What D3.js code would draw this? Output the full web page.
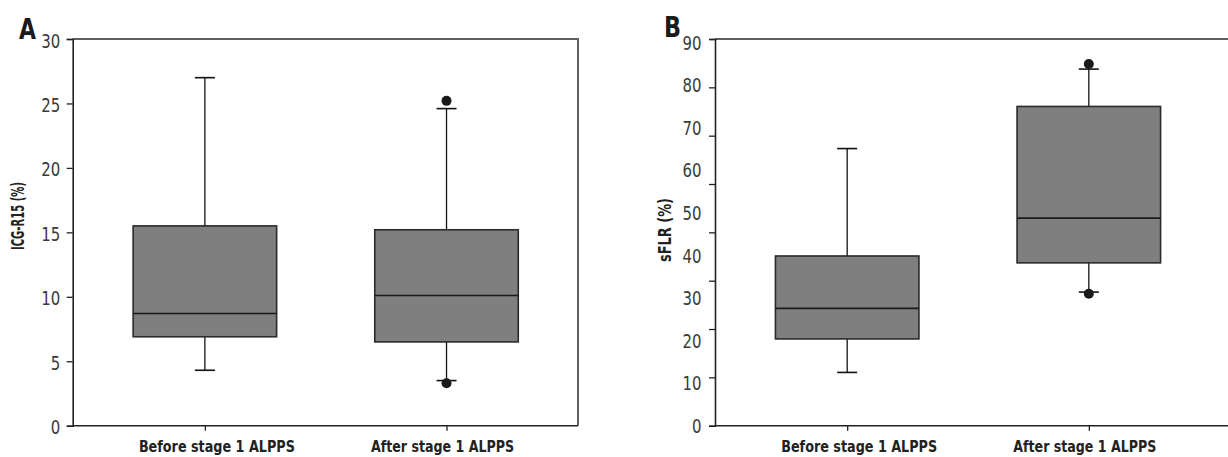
<!DOCTYPE html>
<html>
<head>
<meta charset="utf-8">
<script src="https://cdn.jsdelivr.net/npm/d3@7"></script>
<style>
  html, body { margin: 0; padding: 0; background: #fff; }
  svg { display: block; }
  .narrow { font-family: "Liberation Sans Narrow", "DejaVu Sans Condensed", "Arial Narrow", sans-serif; }
</style>
</head>
<body>
<svg id="chart" width="1228" height="457"></svg>
<script>
// ---------- data ----------
const categories = ["Before stage 1 ALPPS", "After stage 1 ALPPS"];

// Panel A: ICG-R15 (%)
const icgWhiskerLow  = [4.3, 3.5];
const icgQ1          = [6.9, 6.5];
const icgMedian      = [8.7, 10.1];
const icgQ3          = [15.5, 15.2];
const icgWhiskerHigh = [27.0, 24.6];
const icgOutliers    = [[], [25.2, 3.3]];
const icgTicks       = [0, 5, 10, 15, 20, 25, 30];

// Panel B: sFLR (%)
const sflrWhiskerLow  = [12.4, 31.1];
const sflrQ1          = [20.2, 37.9];
const sflrMedian      = [27.3, 48.3];
const sflrQ3          = [39.5, 74.3];
const sflrWhiskerHigh = [64.5, 83.0];
const sflrOutliers    = [[], [84.2, 30.7]];
const sflrTickLabels  = [0, 10, 20, 30, 40, 50, 60, 70, 80, 90];
const sflrTickMarks   = [0, 11.25, 22.5, 33.75, 45, 56.25, 67.5, 78.75, 90];

// ---------- drawing ----------
const svg = d3.select("#chart");
const plotTop = 39, plotBottom = 425.7;
const squeeze = 0.83;                 // horizontal condensing of tick labels
const xLabelShift = [12, -4];         // label nudges (styling)
const xLabelWidth = [156, 143];

function panel(cfg) {
  const g = svg.append("g");
  const y = d3.scaleLinear().domain(cfg.domain).range([plotBottom, plotTop]);
  const x = d3.scalePoint().domain(categories)
      .range([cfg.x0, cfg.x0 + 506]).padding(0.547);
  const boxW = 143.5, capW = 20;

  // frame top + right (grey)
  g.append("path")
    .attr("d", `M${cfg.x0},${plotTop}H${cfg.x1}V${plotBottom}`)
    .attr("fill", "none").attr("stroke", "#5e5e5e").attr("stroke-width", 2);

  // y axis ticks
  const yAxis = d3.axisLeft(y).tickValues(cfg.tickMarks).tickSize(6)
      .tickFormat(cfg.labelScale ? "" : d3.format("d"));
  const ya = g.append("g").attr("transform", `translate(${cfg.x0},0)`).call(yAxis);
  ya.select(".domain").attr("stroke", "#222").attr("stroke-width", 1.6);
  ya.selectAll(".tick line").attr("stroke", "#222").attr("stroke-width", 1.3);
  ya.selectAll(".tick text")
    .attr("class", "narrow").attr("font-size", 20).attr("fill", "#3a3a3a")
    .attr("transform", `scale(${squeeze},1)`)
    .attr("x", -12.5 / squeeze).attr("dy", "0.40em");

  if (cfg.labelScale) {
    g.selectAll("text.ylab").data(cfg.tickLabels).join("text")
      .attr("class", "narrow ylab")
      .attr("transform", d => `translate(${cfg.x0 - 13.5},${cfg.labelScale(d)}) scale(${squeeze},1)`)
      .attr("dy", "0.36em")
      .attr("text-anchor", "end")
      .attr("font-size", 20).attr("fill", "#3a3a3a")
      .text(d => d);
  }

  // x axis
  const xAxis = d3.axisBottom(x).tickSize(5).tickFormat("");
  const xa = g.append("g").attr("transform", `translate(0,${plotBottom})`).call(xAxis);
  xa.select(".domain").attr("d", `M${cfg.x0},0H${cfg.x1}`)
    .attr("stroke", "#222").attr("stroke-width", 1.6);
  xa.selectAll(".tick line").attr("stroke", "#222").attr("stroke-width", 1.3);

  g.selectAll("text.xlab").data(categories).join("text")
    .attr("class", "narrow xlab")
    .attr("x", (d, i) => x(d) + xLabelShift[i]).attr("y", 452)
    .attr("text-anchor", "middle")
    .attr("textLength", (d, i) => xLabelWidth[i]).attr("lengthAdjust", "spacingAndGlyphs")
    .attr("font-size", 16).attr("font-weight", "bold").attr("fill", "#222")
    .text(d => d);

  // boxes
  const stats = categories.map((c, i) => ({
    c, lo: cfg.lo[i], q1: cfg.q1[i], med: cfg.med[i], q3: cfg.q3[i], hi: cfg.hi[i], out: cfg.out[i]
  }));
  const b = g.selectAll("g.box").data(stats).join("g").attr("class", "box");
  // whiskers
  b.append("line").attr("x1", d => x(d.c)).attr("x2", d => x(d.c))
    .attr("y1", d => y(d.hi)).attr("y2", d => y(d.q3))
    .attr("stroke", "#111").attr("stroke-width", 1.3);
  b.append("line").attr("x1", d => x(d.c)).attr("x2", d => x(d.c))
    .attr("y1", d => y(d.q1)).attr("y2", d => y(d.lo))
    .attr("stroke", "#111").attr("stroke-width", 1.3);
  b.append("line").attr("x1", d => x(d.c) - capW / 2).attr("x2", d => x(d.c) + capW / 2)
    .attr("y1", d => y(d.hi)).attr("y2", d => y(d.hi))
    .attr("stroke", "#111").attr("stroke-width", 1.6);
  b.append("line").attr("x1", d => x(d.c) - capW / 2).attr("x2", d => x(d.c) + capW / 2)
    .attr("y1", d => y(d.lo)).attr("y2", d => y(d.lo))
    .attr("stroke", "#111").attr("stroke-width", 1.6);
  // box
  b.append("rect")
    .attr("x", d => x(d.c) - boxW / 2).attr("width", boxW)
    .attr("y", d => y(d.q3)).attr("height", d => y(d.q1) - y(d.q3))
    .attr("fill", "#7f7f7f").attr("stroke", "#2a2a2a").attr("stroke-width", 1.6);
  // median
  b.append("line").attr("x1", d => x(d.c) - boxW / 2).attr("x2", d => x(d.c) + boxW / 2)
    .attr("y1", d => y(d.med)).attr("y2", d => y(d.med))
    .attr("stroke", "#1a1a1a").attr("stroke-width", 1.6);
  // outliers
  b.selectAll("circle").data(d => d.out.map(v => ({ c: d.c, v }))).join("circle")
    .attr("cx", d => x(d.c)).attr("cy", d => y(d.v)).attr("r", 5)
    .attr("fill", "#1a1a1a");

  // y-axis title
  g.append("text")
    .attr("class", "narrow")
    .attr("transform", `translate(${cfg.titleX},${cfg.titleY}) rotate(-90)`)
    .attr("text-anchor", "middle")
    .attr("textLength", cfg.titleLen).attr("lengthAdjust", "spacingAndGlyphs")
    .attr("font-size", 17).attr("font-weight", "bold").attr("fill", "#222")
    .text(cfg.title);

  // panel letter
  g.append("text")
    .attr("class", "narrow")
    .attr("x", cfg.letterX).attr("y", cfg.letterY)
    .attr("textLength", 17).attr("lengthAdjust", "spacingAndGlyphs")
    .attr("font-size", 28).attr("font-weight", "bold").attr("fill", "#1a1a1a")
    .text(cfg.letter);
}

panel({
  x0: 72.7, x1: 578, domain: [0, 30], tickMarks: icgTicks,
  lo: icgWhiskerLow, q1: icgQ1, med: icgMedian, q3: icgQ3, hi: icgWhiskerHigh, out: icgOutliers,
  title: "ICG-R15 (%)", titleLen: 68, titleX: 23.5, titleY: 216,
  letter: "A", letterX: 19, letterY: 39
});

panel({
  x0: 715, x1: 1232, domain: [0, 90], tickMarks: sflrTickMarks,
  tickLabels: sflrTickLabels,
  labelScale: d3.scaleLinear().domain([0, 90]).range([425.8, 42.5]),
  lo: sflrWhiskerLow, q1: sflrQ1, med: sflrMedian, q3: sflrQ3, hi: sflrWhiskerHigh, out: sflrOutliers,
  title: "sFLR (%)", titleLen: 64, titleX: 670.5, titleY: 230,
  letter: "B", letterX: 664, letterY: 37
});
</script>
</body>
</html>
